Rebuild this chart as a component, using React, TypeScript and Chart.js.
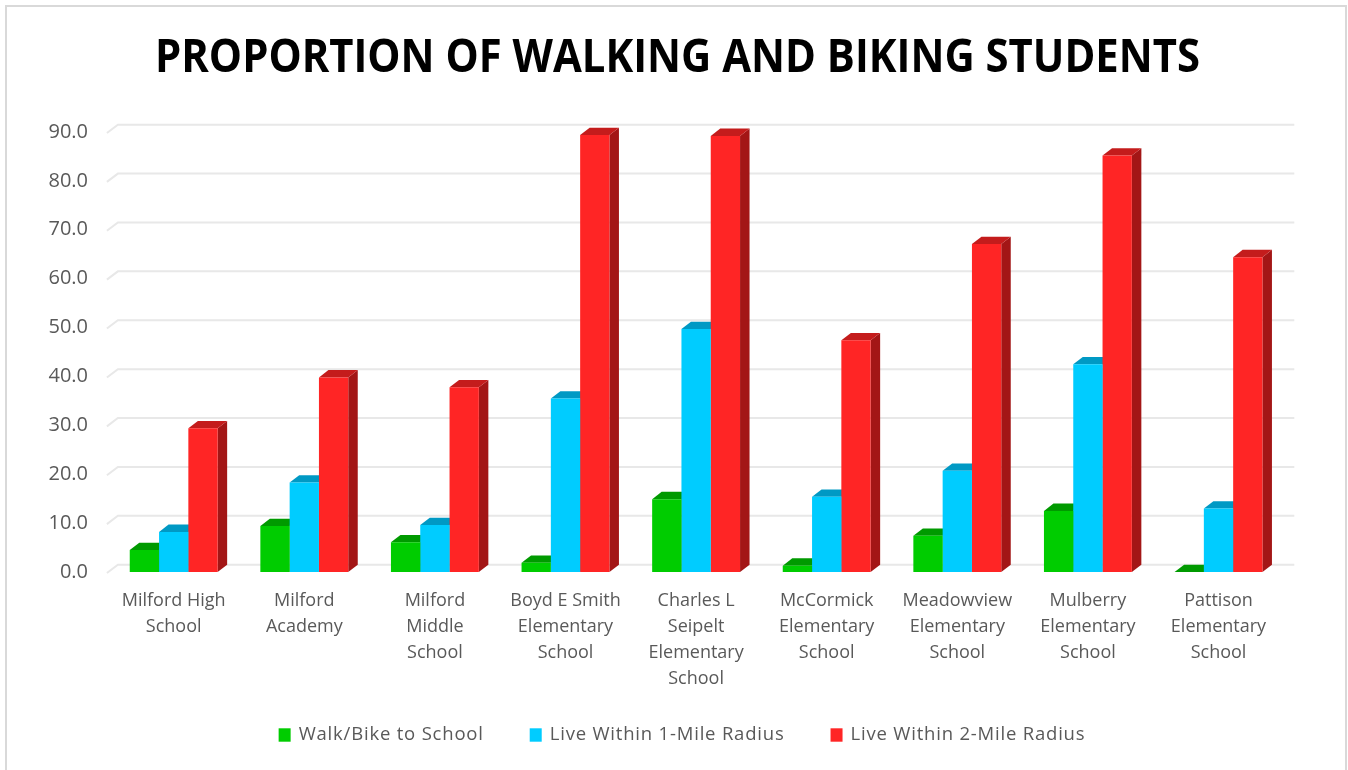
import React, { useEffect, useRef } from "react";
import { Chart, registerables } from "chart.js";

Chart.register(...registerables);

const categories: string[][] = [
  ["Milford High", "School"],
  ["Milford", "Academy"],
  ["Milford", "Middle", "School"],
  ["Boyd E Smith", "Elementary", "School"],
  ["Charles L", "Seipelt", "Elementary", "School"],
  ["McCormick", "Elementary", "School"],
  ["Meadowview", "Elementary", "School"],
  ["Mulberry", "Elementary", "School"],
  ["Pattison", "Elementary", "School"],
];

const walkBike = [4.5, 9.4, 6.1, 1.9, 14.9, 1.3, 7.4, 12.5, 0.0];
const within1Mile = [8.2, 18.3, 9.6, 35.5, 49.7, 15.4, 20.7, 42.5, 13.0];
const within2Mile = [29.4, 39.8, 37.8, 89.4, 89.2, 47.4, 67.1, 85.2, 64.4];

const seriesNames = [
  "Walk/Bike to School",
  "Live Within 1-Mile Radius",
  "Live Within 2-Mile Radius",
];
const frontColors = ["#00CC00", "#00CCFF", "#FF2525"];
const topColors = ["#009A00", "#0099C4", "#C41C1C"];
const sideColors = ["#007A00", "#0082A8", "#A31616"];

const yTickValues = [0, 10, 20, 30, 40, 50, 60, 70, 80, 90];
const titleText = "PROPORTION OF WALKING AND BIKING STUDENTS";

const DX = 9.5;
const DY = 7.3;

const threeDPlugin = {
  id: "threeD",
  beforeDatasetsDraw(chart: any) {
    const ctx = chart.ctx;
    const { left, right } = chart.chartArea;
    const yScale = chart.scales.y;
    ctx.save();
    // back-wall gridlines
    ctx.strokeStyle = "#E8E8E8";
    ctx.lineWidth = 2;
    yTickValues.forEach((v) => {
      const py = yScale.getPixelForValue(v);
      ctx.beginPath();
      ctx.moveTo(left - 1.5, py + 1);
      ctx.lineTo(left + DX, py - DY);
      ctx.lineTo(right + DX + 1, py - DY);
      ctx.stroke();
    });
    // top & side faces
    chart.data.datasets.forEach((_ds: any, di: number) => {
      const meta = chart.getDatasetMeta(di);
      meta.data.forEach((bar: any) => {
        const { x, y, base, width } = bar.getProps(["x", "y", "base", "width"], true);
        const xl = x - width / 2;
        const xr = x + width / 2;
        ctx.fillStyle = sideColors[di];
        ctx.beginPath();
        ctx.moveTo(xr, y);
        ctx.lineTo(xr + DX, y - DY);
        ctx.lineTo(xr + DX, base - DY);
        ctx.lineTo(xr, base);
        ctx.closePath();
        ctx.fill();
        ctx.fillStyle = topColors[di];
        ctx.beginPath();
        ctx.moveTo(xl, y);
        ctx.lineTo(xr, y);
        ctx.lineTo(xr + DX, y - DY);
        ctx.lineTo(xl + DX, y - DY);
        ctx.closePath();
        ctx.fill();
      });
    });
    ctx.restore();
  },
  afterDraw(chart: any) {
    const ctx = chart.ctx;
    ctx.save();
    // chart border
    ctx.strokeStyle = "#D9D9D9";
    ctx.lineWidth = 2;
    ctx.strokeRect(6, 6, 1340, 790);
    // title
    ctx.fillStyle = "#000000";
    ctx.font = "bold 47px 'Open Sans'";
    ctx.textAlign = "center";
    ctx.textBaseline = "alphabetic";
    ctx.fillText(titleText, 677.5, 72, 1045);
    // legend
    ctx.font = "18.5px 'Open Sans'";
    try {
      (ctx as any).letterSpacing = "0.8px";
    } catch (e) {}
    ctx.textAlign = "left";
    ctx.textBaseline = "middle";
    const boxW = 12;
    const boxH = 13.4;
    const gap = 8;
    const spacing = 46;
    const items = chart.data.datasets.map((ds: any) => ({
      label: ds.label,
      color: ds.backgroundColor,
      w: ctx.measureText(ds.label).width,
    }));
    const total =
      items.reduce((s: number, it: any) => s + boxW + gap + it.w, 0) +
      spacing * (items.length - 1);
    let x = 682 - total / 2;
    const cy = 735;
    items.forEach((it: any) => {
      ctx.fillStyle = it.color;
      ctx.fillRect(x, cy - boxH / 2, boxW, boxH);
      ctx.fillStyle = "#595959";
      ctx.fillText(it.label, x + boxW + gap, cy);
      x += boxW + gap + it.w + spacing;
    });
    ctx.restore();
  },
};

export default function App() {
  const canvasRef = useRef<HTMLCanvasElement | null>(null);

  useEffect(() => {
    document.body.style.margin = "0";
    document.body.style.background = "#FFFFFF";
    const canvas = canvasRef.current;
    if (!canvas) return;
    const chart = new Chart(canvas, {
      type: "bar",
      data: {
        labels: categories,
        datasets: [
          { label: seriesNames[0], data: walkBike, backgroundColor: frontColors[0] },
          { label: seriesNames[1], data: within1Mile, backgroundColor: frontColors[1] },
          { label: seriesNames[2], data: within2Mile, backgroundColor: frontColors[2] },
        ],
      },
      options: {
        responsive: false,
        animation: false,
        events: [],
        layout: { padding: { top: 132, right: 64.2, left: 0, bottom: 0 } },
        datasets: {
          bar: {
            categoryPercentage: 0.673,
            barPercentage: 1.0,
            borderWidth: 0,
          },
        },
        plugins: {
          legend: { display: false },
          title: { display: false },
          tooltip: { enabled: false },
        },
        scales: {
          x: {
            grid: { display: false, drawTicks: false },
            border: { display: false },
            ticks: {
              color: "#595959",
              font: { family: "'Open Sans'", size: 18, lineHeight: 1.444 },
              padding: 16,
              maxRotation: 0,
              autoSkip: false,
            },
            afterFit: (scale: any) => {
              scale.height = 198;
            },
          },
          y: {
            min: 0,
            max: 90,
            grid: { display: false, drawTicks: false },
            border: { display: false },
            ticks: {
              stepSize: 10,
              color: "#595959",
              font: { family: "'Open Sans'", size: 20 },
              padding: 20.4,
              callback: (v: any) => Number(v).toFixed(1),
            },
            afterFit: (scale: any) => {
              scale.width = 108.4;
            },
          },
        },
      },
      plugins: [threeDPlugin],
    });
    return () => chart.destroy();
  }, []);

  return (
    <div style={{ width: 1348, height: 770, background: "#FFFFFF" }}>
      <canvas ref={canvasRef} width={1348} height={770} style={{ display: "block" }} />
    </div>
  );
}
